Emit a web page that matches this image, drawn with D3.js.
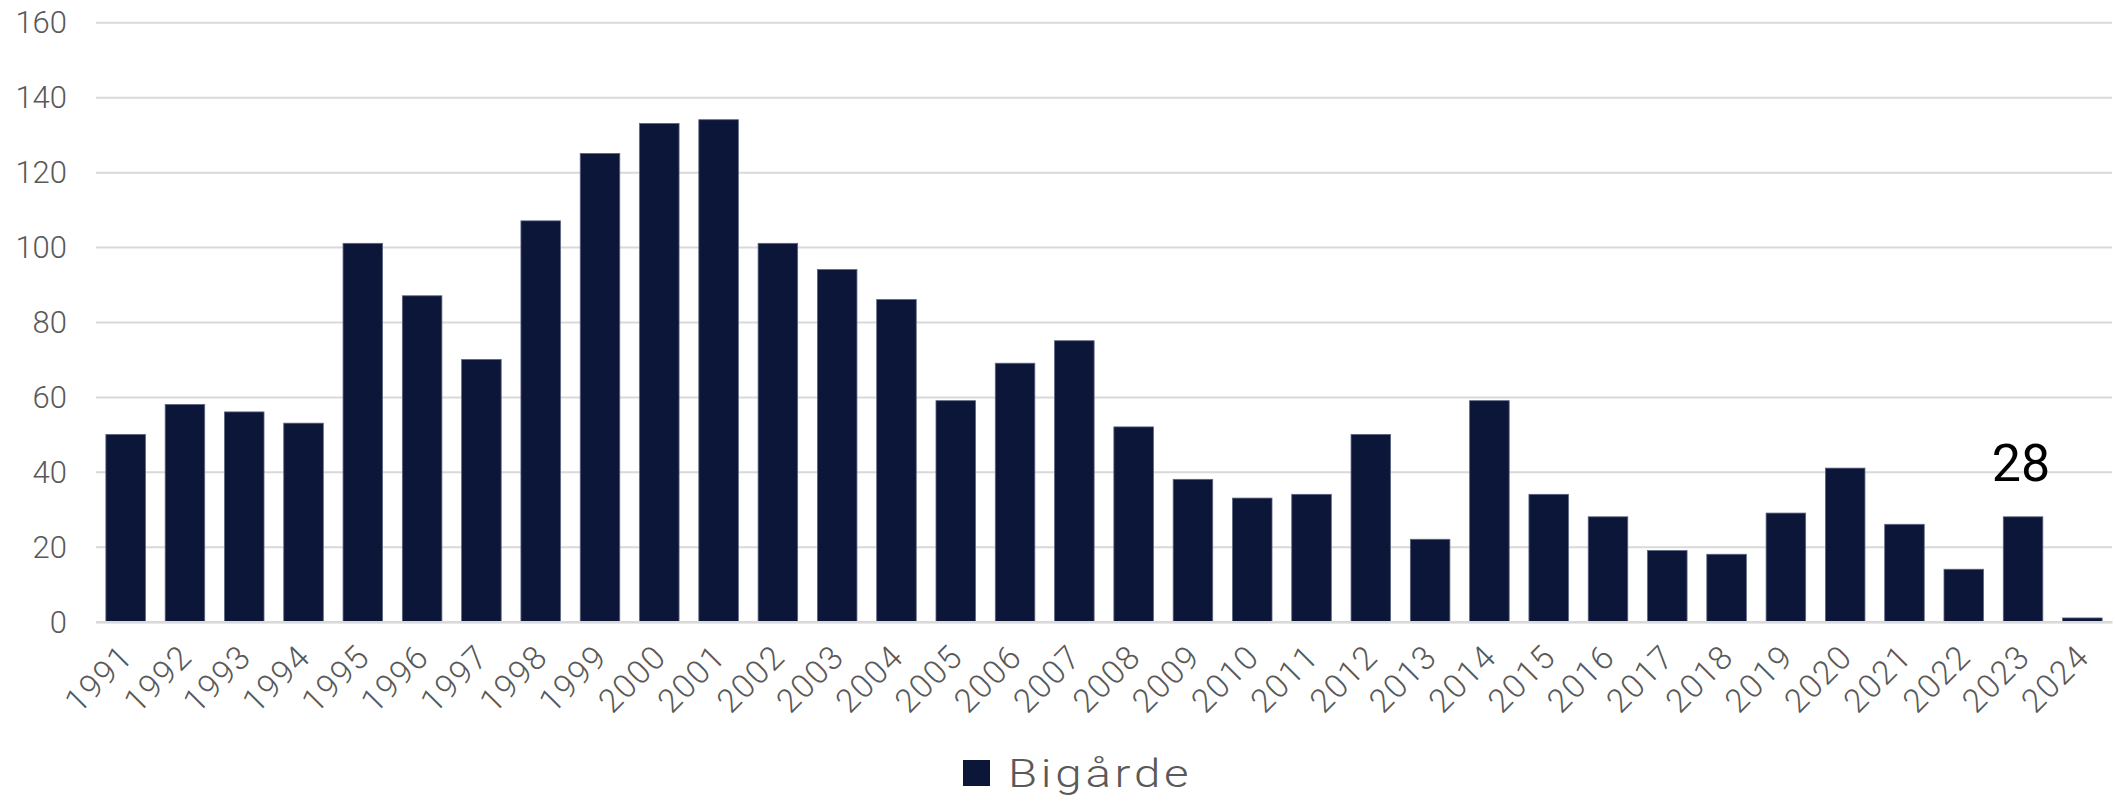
<!DOCTYPE html>
<html>
<head>
<meta charset="utf-8">
<script src="https://cdn.jsdelivr.net/npm/d3@7"></script>
<style>
  html, body { margin: 0; padding: 0; background: #ffffff; }
  svg { display: block; }
</style>
</head>
<body>
<svg id="chart" width="2116" height="802"></svg>
<script>
// Antal bigårdar per år
const years = ["1991","1992","1993","1994","1995","1996","1997","1998","1999","2000",
               "2001","2002","2003","2004","2005","2006","2007","2008","2009","2010",
               "2011","2012","2013","2014","2015","2016","2017","2018","2019","2020",
               "2021","2022","2023","2024"];
const bigarde = [50, 58, 56, 53, 101, 87, 70, 107, 125, 133,
                 134, 101, 94, 86, 59, 69, 75, 52, 38, 33,
                 34, 50, 22, 59, 34, 28, 19, 18, 29, 41,
                 26, 14, 28, 1];
const yTicks = [0, 20, 40, 60, 80, 100, 120, 140, 160];
const seriesName = "Bigårde";
const labelledYear = "2023";

const svg = d3.select("#chart");
const barColor = "#0c1639";
const textColor = "#595959";
const gridColor = "#d9d9d9";
const tickFont = "Roboto, 'Open Sans', sans-serif";

const x = d3.scaleBand()
  .domain(years)
  .range([96, 2112])
  .paddingInner(0.333)
  .paddingOuter(0.1665);

const y = d3.scaleLinear()
  .domain([0, 160])
  .range([621.7, 22.3]);

// horizontal gridlines + y labels
const yAxis = d3.axisLeft(y)
  .tickValues(yTicks)
  .tickSize(-(2112 - 96))
  .tickPadding(29)
  .tickFormat(d3.format("d"));

const gy = svg.append("g")
  .attr("transform", "translate(96,0)")
  .call(yAxis);
gy.select(".domain").remove();
gy.selectAll(".tick line")
  .attr("stroke", gridColor)
  .attr("stroke-width", 2);
gy.selectAll(".tick text")
  .attr("fill", textColor)
  .attr("font-family", tickFont)
  .attr("font-weight", 300)
  .attr("font-size", 31)
  .attr("dy", "0.34em");

// bars
svg.append("g")
  .selectAll("rect")
  .data(years.map((yr, i) => ({ yr, v: bigarde[i] })))
  .join("rect")
  .attr("x", d => x(d.yr))
  .attr("width", x.bandwidth())
  .attr("y", d => y(d.v))
  .attr("height", d => y(0) - y(d.v))
  .attr("fill", barColor)
  .attr("stroke", "#5d6580")
  .attr("stroke-width", 0.8);

// category axis
const xAxis = d3.axisBottom(x).tickSize(0).tickPadding(0);
const gx = svg.append("g")
  .attr("transform", `translate(0,${y(0)})`)
  .call(xAxis);
gx.select(".domain")
  .attr("stroke", gridColor)
  .attr("stroke-width", 2.5);
gx.selectAll(".tick text")
  .attr("fill", textColor)
  .attr("font-family", tickFont)
  .attr("font-weight", 300)
  .attr("font-size", 33)
  .attr("letter-spacing", 1.5)
  .attr("text-anchor", "end")
  .attr("y", 0)
  .attr("dy", 0)
  .attr("transform", "translate(9,37) rotate(-45)");

// value label above 2023
const li = years.indexOf(labelledYear);
svg.append("text")
  .attr("x", x(labelledYear) + x.bandwidth() / 2 - 2)
  .attr("y", y(bigarde[li]) - 36)
  .attr("text-anchor", "middle")
  .attr("fill", "#000000")
  .attr("font-family", tickFont)
  .attr("font-size", 52)
  .text(bigarde[li]);

// legend
const legend = svg.append("g").attr("transform", "translate(963,760)");
legend.append("rect")
  .attr("width", 27)
  .attr("height", 26)
  .attr("fill", barColor);
legend.append("text")
  .attr("transform", "translate(45,27) scale(1.25,1)")
  .attr("fill", textColor)
  .attr("font-family", tickFont)
  .attr("font-weight", 300)
  .attr("font-size", 38)
  .attr("letter-spacing", 3)
  .text(seriesName);
</script>
</body>
</html>
